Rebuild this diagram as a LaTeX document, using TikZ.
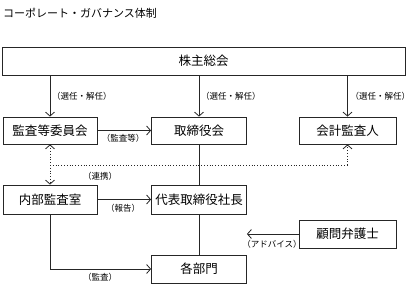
\documentclass[tikz,border=0pt]{standalone}
\usepackage{fontspec}
\setmainfont{Noto Sans CJK JP}
\usepackage{tikz}
\usetikzlibrary{positioning,arrows.meta}
\tikzstyle{block} = [rectangle, draw=black!85, line width=0.8pt, align=center, minimum height=28pt, minimum width=95pt, inner sep=0pt, font=\fontsize{12.5}{14}\selectfont]
\tikzstyle{lbl} = [inner sep=0pt, font=\fontsize{8.5}{10}\selectfont]
\tikzstyle{link} = [draw=black!85, line width=0.8pt]
\tikzstyle{arr} = [link, -{Straight Barb[length=4pt,width=9pt]}]

\begin{document}
\begin{tikzpicture}[x=1pt, y=-1pt]
\useasboundingbox (0,0) rectangle (411,296);
\node[anchor=west, inner sep=0pt, font=\fontsize{11}{13}\selectfont] (title) at (3,13) {コーポレート・ガバナンス体制};
\node[block, minimum width=403pt] (soukai) at (203.5,61) {株主総会};
\node[block, minimum height=27pt, minimum width=94pt] (kansa) at (50,130.5) {監査等委員会};
\node[block, minimum height=27pt] (torishimari) at (199,130.5) {取締役会};
\node[block, minimum height=27pt, minimum width=97pt] (kaikei) at (347.5,130.5) {会計監査人};
\node[block, minimum height=29pt, minimum width=94pt] (naibu) at (50,199.5) {内部監査室};
\node[block, minimum height=29pt] (daihyo) at (199,199.5) {代表取締役社長};
\node[block, minimum width=97pt] (komon) at (347.5,234) {顧問弁護士};
\node[block] (kakubu) at (199,269) {各部門};
% election arrows
\draw[arr] (kansa |- soukai.south) -- (kansa);
\draw[arr] (torishimari |- soukai.south) -- (torishimari);
\draw[arr] (kaikei |- soukai.south) -- (kaikei);
\node[lbl, anchor=west] (sennin1) at (52,96) {（選任・解任）};
\node[lbl, anchor=west] (sennin2) at (201,96) {（選任・解任）};
\node[lbl, anchor=west] (sennin3) at (350.5,96) {（選任・解任）};
% audit committee
\draw[arr] (kansa.east) -- (torishimari.west);
\node[lbl] (kansatou) at (123,138) {（監査等）};
% cooperation
\coordinate (dotL) at (50,165);
\coordinate (dotR) at (kaikei.south |- dotL);
\draw[link, dotted, {Straight Barb[length=4pt,width=9pt]}-{Straight Barb[length=4pt,width=9pt]}] (kansa.south) -- (naibu.north);
\draw[link, dotted] (dotL) -- (dotR);
\draw[arr, dotted] (dotR) -- (kaikei.south);
\node[lbl] (renkei) at (100,176) {（連携）};
% management line
\draw[link] (torishimari.south) -- (daihyo.north);
\draw[link] (daihyo.south) -- (kakubu.north);
\draw[arr] (naibu.east) -- (daihyo.west);
\node[lbl] (houkoku) at (123,208) {（報告）};
\draw[arr] (komon.west) -- (daihyo.east |- komon.west);
\node[lbl] (advice) at (272,244) {（アドバイス）};
\draw[arr] (naibu.south) |- (kakubu.west);
\node[lbl] (kansa2) at (100,277) {（監査）};
\end{tikzpicture}
\end{document}
